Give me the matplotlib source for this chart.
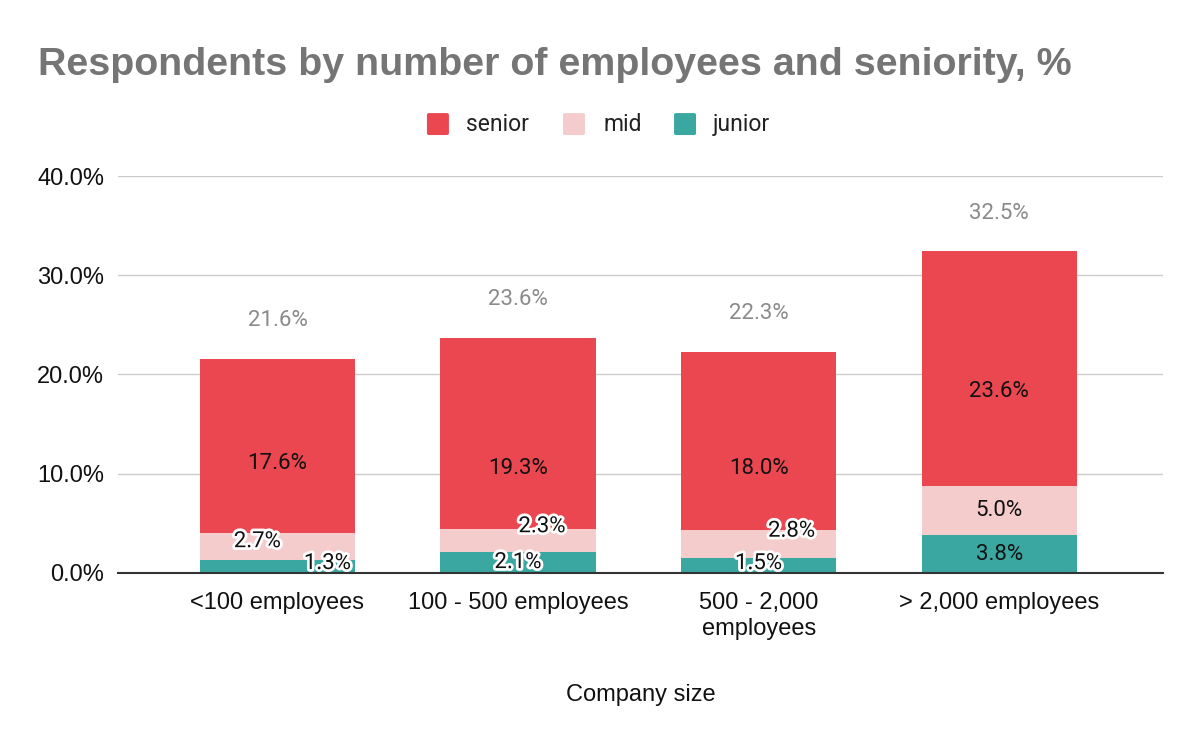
import matplotlib
matplotlib.use('Agg')
import matplotlib.pyplot as plt
import matplotlib.patheffects as pe
from matplotlib.patches import FancyBboxPatch
import numpy as np

plt.rcParams['font.family'] = ['Liberation Sans', 'DejaVu Sans']
LABEL_FONT = ['Roboto', 'DejaVu Sans']

# ---- data ----
categories = ['<100 employees', '100 - 500 employees', '500 - 2,000\nemployees', '> 2,000 employees']
junior = [1.3, 2.1, 1.5, 3.8]
mid = [2.7, 2.3, 2.8, 5.0]
senior = [17.6, 19.3, 18.0, 23.6]
totals = [21.6, 23.6, 22.3, 32.5]
yticks = [0, 10, 20, 30, 40]

col_senior = '#EB4750'
col_mid = '#F4CCCC'
col_junior = '#3AA7A1'

# label nudges (pixels) where Sheets moved labels around
junior_off = [(50, 3), (0, 0), (0, 2), (0, 0)]
mid_off = [(-20, 5), (24, 14), (33, 13), (0, 0)]
senior_off = [(0, -18), (0, -35), (0, -28), (0, -23)]
outlined = [True, True, True, False]

fig = plt.figure(figsize=(12, 7.42), dpi=100)
ax = fig.add_axes([0.0983, 0.2278, 0.8707, 0.535])

x = np.arange(len(categories))
w = 0.645
jun = np.array(junior)
mi = np.array(mid)
sen = np.array(senior)

ax.bar(x, jun, w, color=col_junior, zorder=3)
ax.bar(x, mi, w, bottom=jun, color=col_mid, zorder=3)
ax.bar(x, sen, w, bottom=jun + mi, color=col_senior, zorder=3)

stroke = [pe.withStroke(linewidth=4, foreground='white')]

def seg_label(xi, yc, val, off, outline):
    ax.annotate(f'{val:.1f}%', (xi, yc), xytext=off, textcoords='offset pixels',
                ha='center', va='center', fontsize=16, color='#111111', zorder=5,
                family=LABEL_FONT, path_effects=stroke if outline else None)

for i in range(len(categories)):
    seg_label(x[i], jun[i] / 2, jun[i], junior_off[i], outlined[i])
    seg_label(x[i], jun[i] + mi[i] / 2, mi[i], mid_off[i], outlined[i])
    seg_label(x[i], jun[i] + mi[i] + sen[i] / 2, sen[i], senior_off[i], False)
    top = jun[i] + mi[i] + sen[i]
    ax.annotate(f'{totals[i]:.1f}%', (x[i], top), xytext=(0, 38), textcoords='offset pixels',
                ha='center', va='center', fontsize=16, color='#8a8a8a', family=LABEL_FONT)

ax.set_xlim(-0.663, 3.68)
ax.set_ylim(0, 40)
ax.set_yticks(yticks)
ax.set_yticklabels([f'{v:.1f}%' for v in yticks], fontsize=17, color='#111111')
ax.set_xticks(x)
ax.set_xticklabels(categories, fontsize=17, color='#111111', linespacing=1.2)
ax.tick_params(length=0, pad=10)
ax.tick_params(axis='x', pad=14)
ax.grid(axis='y', color='#cccccc', linewidth=1, zorder=0)
for s in ['top', 'right', 'left']:
    ax.spines[s].set_visible(False)
ax.spines['bottom'].set_color('#333333')
ax.spines['bottom'].set_linewidth(1.5)
ax.spines['bottom'].set_zorder(4)
ax.set_xlabel('Company size', fontsize=17, color='#111111', labelpad=32)

fig.text(0.032, 0.912, 'Respondents by number of employees and seniority, %',
         fontsize=28.4, fontweight='bold', color='#757575', ha='left', va='center')

# legend drawn in figure coords
leg_items = [('senior', col_senior, 0.3558, 0.3883), ('mid', col_mid, 0.4692, 0.5033),
             ('junior', col_junior, 0.5617, 0.5942)]
for name, c, lx, tx in leg_items:
    fig.patches.append(FancyBboxPatch((lx, 0.818), 0.0183, 0.0296, boxstyle='round,pad=0,rounding_size=0.002',
                                      transform=fig.transFigure, facecolor=c, edgecolor='none'))
    fig.text(tx, 0.832, name, fontsize=16.5, color='#222222', ha='left', va='center', family=LABEL_FONT)

fig.savefig('out.png', dpi=100)
